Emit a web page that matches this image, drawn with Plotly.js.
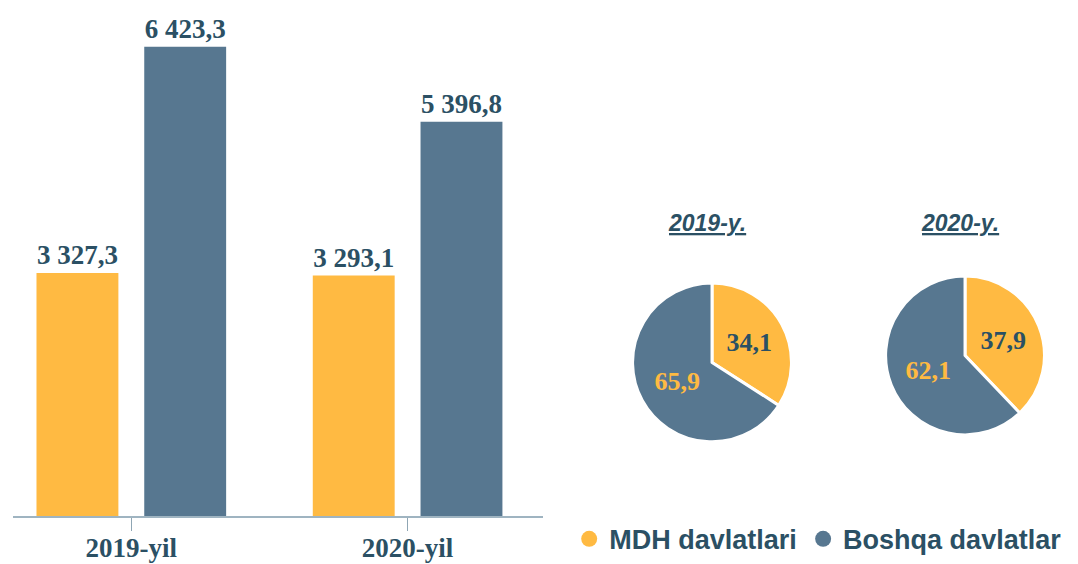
<!DOCTYPE html>
<html>
<head>
<meta charset="utf-8">
<script src="https://cdn.plot.ly/plotly-3.0.1.min.js"></script>
<style>
html,body{margin:0;padding:0;background:#fff;}
#chart{width:1078px;height:564px;}
</style>
</head>
<body>
<div id="chart"></div>
<script>
// ---- data ----
const years = ['2019-yil', '2020-yil'];
const mdhValues = [3327.3, 3293.1];
const otherValues = [6423.3, 5396.8];
const seriesNames = ['MDH davlatlari', 'Boshqa davlatlar'];
const pieTitles = ['2019-y.', '2020-y.'];
const pieShares2019 = [34.1, 65.9];
const pieShares2020 = [37.9, 62.1];

// ---- style ----
const YELLOW = '#FFBA42';
const BLUE = '#577790';
const DARK = '#2b5064';
const serif = 'Liberation Serif, Times New Roman, serif';
const sans = 'Liberation Sans, Arial, sans-serif';

const barText = {family: serif, size: 27, color: DARK, weight: 'bold'};

function fmt(v) { return '<b>' + v.toFixed(1).replace('.', ',') + '</b>'; }

const traces = [
  {
    type: 'bar', x: years, y: mdhValues, name: seriesNames[0],
    marker: {color: YELLOW}, showlegend: false,
    texttemplate: '<b>%{y:,.1f}</b>', textposition: 'outside',
    textfont: barText, cliponaxis: false, hoverinfo: 'skip'
  },
  {
    type: 'bar', x: years, y: otherValues, name: seriesNames[1],
    marker: {color: BLUE}, showlegend: false,
    texttemplate: '<b>%{y:,.1f}</b>', textposition: 'outside',
    textfont: barText, cliponaxis: false, hoverinfo: 'skip'
  },
  {
    type: 'pie', values: pieShares2019, labels: seriesNames,
    sort: false, direction: 'clockwise', rotation: 0,
    marker: {colors: [YELLOW, BLUE], line: {color: '#ffffff', width: 3}},
    textinfo: 'text', text: pieShares2019.map(fmt),
    textposition: 'inside', insidetextorientation: 'horizontal',
    textfont: {family: serif, size: 26, color: [DARK, YELLOW]},
    domain: {x: [0.5863, 0.7347], y: [0.211, 0.4947]},
    showlegend: false, hoverinfo: 'skip'
  },
  {
    type: 'pie', values: pieShares2020, labels: seriesNames,
    sort: false, direction: 'clockwise', rotation: 0,
    marker: {colors: [YELLOW, BLUE], line: {color: '#ffffff', width: 3}},
    textinfo: 'text', text: pieShares2020.map(fmt),
    textposition: 'inside', insidetextorientation: 'horizontal',
    textfont: {family: serif, size: 26, color: [DARK, YELLOW]},
    domain: {x: [0.821, 0.9694], y: [0.2234, 0.507]},
    showlegend: false, hoverinfo: 'skip'
  },
  // legend entries
  {type: 'scatter', mode: 'markers', x: [null], y: [null], name: seriesNames[0],
   marker: {color: YELLOW, size: 16, symbol: 'circle'}, hoverinfo: 'skip', legend: 'legend'},
  {type: 'scatter', mode: 'markers', x: [null], y: [null], name: seriesNames[1],
   marker: {color: BLUE, size: 16, symbol: 'circle'}, hoverinfo: 'skip', legend: 'legend2'}
];

const legendFont = {family: sans, size: 27, color: DARK, weight: 'bold'};

const layout = {
  width: 1078, height: 564,
  margin: {l: 0, r: 0, t: 0, b: 0},
  paper_bgcolor: '#ffffff', plot_bgcolor: '#ffffff',
  separators: ', ',
  barmode: 'group', bargap: 0.22, bargroupgap: 0.24,
  xaxis: {
    domain: [0.0116, 0.5037], range: [-0.43, 1.49],
    type: 'category', showgrid: false, zeroline: false,
    showline: true, linecolor: '#9fb4c1', linewidth: 2,
    ticks: 'outside', ticklen: 13, tickwidth: 1.5, tickcolor: '#8fa6b4',
    ticklabelstandoff: -7,
    tickfont: {family: serif, size: 27, color: DARK, weight: 'bold'},
    fixedrange: true
  },
  yaxis: {
    domain: [0.078, 1], range: [0, 7061],
    visible: false, showgrid: false, zeroline: false, fixedrange: true
  },
  showlegend: true,
  legend: {
    orientation: 'h', x: 0.528, xanchor: 'left', y: 0.037, yanchor: 'middle',
    font: legendFont, itemwidth: 30, bgcolor: 'rgba(0,0,0,0)'
  },
  legend2: {
    orientation: 'h', x: 0.745, xanchor: 'left', y: 0.037, yanchor: 'middle',
    font: legendFont, itemwidth: 30, bgcolor: 'rgba(0,0,0,0)'
  },
  annotations: pieTitles.map((t, i) => ({
    text: '<b><i><u>' + t + '</u></i></b>',
    xref: 'paper', yref: 'paper',
    x: [0.6558, 0.8905][i], y: (564 - 225) / 564,
    xanchor: 'center', yanchor: 'middle', showarrow: false,
    font: {family: sans, size: 23, color: DARK}
  }))
};

Plotly.newPlot('chart', traces, layout, {displayModeBar: false, staticPlot: true});
</script>
</body>
</html>
